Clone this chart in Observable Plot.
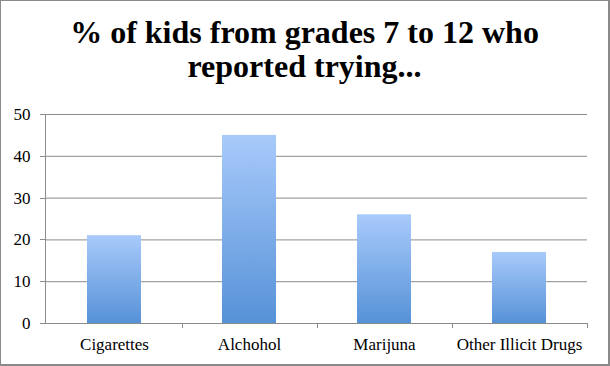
<!DOCTYPE html>
<html>
<head>
<meta charset="utf-8">
<script src="https://cdn.jsdelivr.net/npm/d3@7"></script>
<script src="https://cdn.jsdelivr.net/npm/@observablehq/plot@0.6"></script>
<style>
  html, body { margin: 0; padding: 0; background: #fff; }
  #frame {
    position: relative; width: 610px; height: 366px; box-sizing: border-box;
    border: 1px solid #8a8a8a; border-right-width: 2px; border-bottom-width: 2px; overflow: hidden; background: #fff;
  }
  #title {
    width: 607px; height: 99px; box-sizing: border-box; padding-top: 14px;
    font-family: "Liberation Serif", serif; font-weight: bold; font-size: 32px; line-height: 34px;
    text-align: center; color: #000; white-space: nowrap;
  }
  #chart svg { display: block; }
</style>
</head>
<body>
<div id="frame">
  <div id="title">% of kids from grades 7 to 12 who<br>reported trying...</div>
  <div id="chart"></div>
</div>
<script>
const categories = ["Cigarettes", "Alchohol", "Marijuna", "Other Illicit Drugs"];
const values = [21, 45, 26, 17];
const yTicks = [0, 10, 20, 30, 40, 50];

const data = categories.map((c, i) => ({category: c, value: values[i]}));

const defs = () => {
  const d = d3.create("svg:defs");
  const g = d.append("linearGradient").attr("id", "barGrad")
    .attr("x1", 0).attr("y1", 0).attr("x2", 0).attr("y2", 1);
  g.append("stop").attr("offset", "0%").attr("stop-color", "#a8cafb");
  g.append("stop").attr("offset", "100%").attr("stop-color", "#5692d7");
  return d.node();
};

const axisExtras = (index, scales, values, dims) => {
  const g = d3.create("svg:g").attr("stroke", "#8c8c8c").attr("stroke-width", 1).attr("fill", "none");
  const x = scales.x, y = scales.y;
  const y0 = y(0), y1 = y(50);
  const left = dims.marginLeft;
  g.append("line").attr("x1", left + 0.5).attr("x2", left + 0.5).attr("y1", y1).attr("y2", y0);
  for (const t of yTicks) {
    const ty = Math.round(y(t)) + 0.5;
    g.append("line").attr("x1", left - 5).attr("x2", left).attr("y1", ty).attr("y2", ty);
  }
  const step = x.step();
  for (const c of categories) {
    const bx = Math.round(x(c) + x.bandwidth() / 2 + step / 2) + 0.5;
    g.append("line").attr("x1", bx).attr("x2", bx).attr("y1", y0).attr("y2", y0 + 5);
  }
  return g.node();
};

const plot = Plot.plot({
  width: 607,
  height: 264,
  marginTop: 14,
  marginBottom: 41,
  marginLeft: 44,
  marginRight: 21,
  style: {fontFamily: "Liberation Serif, serif", fontSize: "17px", color: "#000", background: "transparent"},
  x: {domain: categories, paddingInner: 0.6, paddingOuter: 0.3, align: 0.5, label: null, tickSize: 0, tickPadding: 14},
  y: {domain: [0, 50], ticks: yTicks, label: null, tickSize: 0, tickPadding: 15},
  marks: [
    defs,
    Plot.gridY(yTicks, {stroke: "#8c8c8c", strokeOpacity: 1}),
    Plot.barY(data, {x: "category", y: "value", fill: "url(#barGrad)"}),
    Plot.ruleY([0], {stroke: "#8c8c8c"}),
    axisExtras
  ]
});
document.getElementById("chart").appendChild(plot);
</script>
</body>
</html>
